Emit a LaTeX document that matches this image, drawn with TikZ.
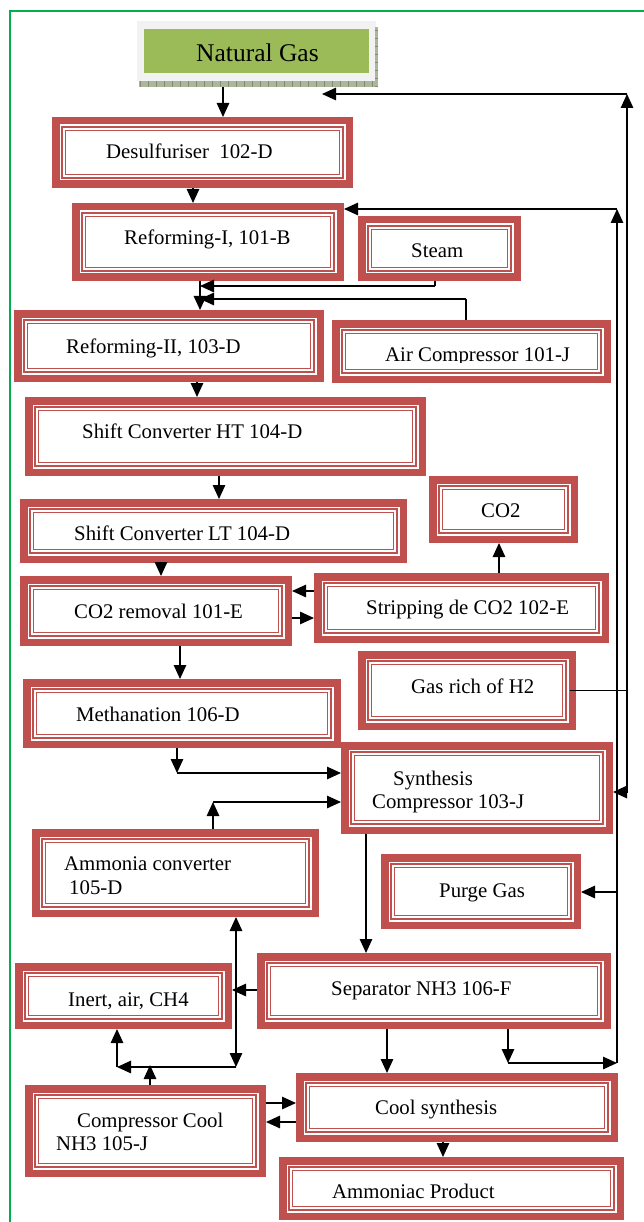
\documentclass[tikz,border=0pt]{standalone}
\usepackage{fontspec}
\setmainfont{Liberation Serif}
\usetikzlibrary{arrows.meta}
\definecolor{boxred}{RGB}{192,80,77}
\definecolor{ngreen}{RGB}{155,187,89}
\definecolor{framegreen}{RGB}{0,176,80}
\definecolor{shadegray}{RGB}{242,242,242}
\definecolor{hatchc}{RGB}{172,182,156}
\definecolor{hatchd}{RGB}{130,140,115}
\pgfdeclarelayer{bg}
\pgfsetlayers{bg,main}
\newcommand\mkbox[5]{\node[boxnode, minimum width={#4-#2}, minimum height={#5-#3}] (#1) at ({(#2+#4)/2},{(#3+#5)/2}) {};}
\newcommand\drawbox[1]{%
  \fill[boxred] (#1.north west) rectangle (#1.south east);
  \fill[white] ([shift={(7.5pt,-7.5pt)}]#1.north west) rectangle ([shift={(-7.5pt,7.5pt)}]#1.south east);
  \draw[boxred,line width=1.8pt] ([shift={(10.1pt,-10.1pt)}]#1.north west) rectangle ([shift={(-10.1pt,10.1pt)}]#1.south east);
  \draw[boxred,line width=1pt] ([shift={(13.5pt,-13.5pt)}]#1.north west) rectangle ([shift={(-13.5pt,13.5pt)}]#1.south east);}
\begin{document}
\begin{tikzpicture}[x=1pt,y=-1pt,
  boxnode/.style={rectangle, inner sep=0, outer sep=0, draw=none},
  txt/.style={font=\fontsize{20.8pt}{24.5pt}\selectfont, inner sep=0, anchor=base west},
  arr/.style={-{Triangle[length=14pt,width=12.5pt]}, line width=1.3pt},
  dbl/.style={{Triangle[length=14pt,width=12.5pt]}-{Triangle[length=14pt,width=12.5pt]}, line width=1.3pt},
  ln/.style={line width=1.3pt}]
\useasboundingbox (0,0) rectangle (643,1222);
% frame
\draw[framegreen, line width=1.6pt] (10,1230) -- (10,11) -- (650,11);

% natural gas
\node[boxnode, minimum width=241, minimum height=66] (ng) at (257.5,54) {};
\fill[shadegray] (137,21) rectangle (376,81);
\fill[hatchc] (139,81) rectangle (378,87);
\fill[hatchc] (375,27) rectangle (378,87);
\foreach \i in {0,...,29} \draw[hatchd, line width=0.5pt] ({140+\i*8},81) -- ({140+\i*8},87);
\foreach \i in {0,...,7} \draw[hatchd, line width=0.5pt] (375,{30+\i*8}) -- (378,{30+\i*8});
\fill[ngreen] (144,29) rectangle (369,73);
\node[txt, font=\fontsize{25.5pt}{30pt}\selectfont] (tng) at (196,62) {Natural Gas};

% boxes
\mkbox{desulf}{52}{117}{353}{188}
\mkbox{refa}{72}{203}{344}{281}
\mkbox{steam}{358}{216}{521}{281}
\mkbox{refb}{14}{310}{324}{382}
\mkbox{aircomp}{332}{320}{611}{383}
\mkbox{sht}{25}{397}{426}{476}
\mkbox{slt}{20}{499}{407}{563}
\mkbox{cotwo}{429}{476}{578}{543}
\mkbox{corem}{20}{576}{292}{646}
\mkbox{strip}{314}{573}{609}{643}
\mkbox{gasrich}{358}{651}{576}{730}
\mkbox{meth}{23}{679}{341}{748}
\mkbox{syncomp}{341}{742}{613}{834}
\mkbox{ammconv}{32}{829}{319}{917}
\mkbox{purge}{381}{854}{581}{929}
\mkbox{inert}{15}{963}{232}{1029}
\mkbox{sep}{257}{953}{611}{1029}
\mkbox{coolsyn}{296}{1073}{618}{1142}
\mkbox{compcool}{25}{1085}{266}{1177}
\mkbox{product}{279}{1157}{624}{1220}

\begin{pgfonlayer}{bg}
\foreach \n in {desulf,refa,steam,refb,aircomp,sht,slt,cotwo,corem,strip,gasrich,meth,syncomp,ammconv,purge,inert,sep,coolsyn,compcool,product}{\drawbox{\n}}
\end{pgfonlayer}

% texts
\node[txt] (tdes) at (106,159) {Desulfuriser~~102-D};
\node[txt] (trefa) at (124,245) {Reforming-I, 101-B};
\node[txt] (tsteam) at (411,258) {Steam};
\node[txt] (trefb) at (66,353) {Reforming-II, 103-D};
\begin{scope}
\clip (332,300) rectangle (611,362.5);
\node[txt] (tair) at (385,361) {Air Compressor 101-J};
\end{scope}
\node[txt] (tsht) at (82,438) {Shift Converter HT 104-D};
\node[txt] (tco) at (481,517) {CO2};
\node[txt] (tslt) at (74,540) {Shift Converter LT 104-D};
\node[txt] (tcorem) at (74,618) {CO2 removal 101-E};
\node[txt] (tstrip) at (366,614) {Stripping de CO2 102-E};
\node[txt] (tgas) at (411,693) {Gas rich of H2};
\node[txt] (tmeth) at (76,721) {Methanation 106-D};
\node[txt] (tsyna) at (393,785) {Synthesis};
\node[txt] (tsynb) at (372,808) {Compressor 103-J};
\node[txt] (tamma) at (64,870) {Ammonia converter};
\node[txt] (tammb) at (69,894) {105-D};
\node[txt] (tpurge) at (439,897) {Purge Gas};
\node[txt] (tinert) at (68,1006) {Inert, air, CH4};
\node[txt] (tsep) at (331,995) {Separator NH3 106-F};
\node[txt] (tcool) at (375,1114) {Cool synthesis};
\node[txt] (tcca) at (77,1127) {Compressor Cool};
\node[txt] (tccb) at (56,1150) {NH3 105-J};
\node[txt] (tprod) at (332,1198) {Ammoniac Product};

% junction coordinates
\coordinate (ra) at (627,94);
\coordinate (rb) at (627,792);
\coordinate (ngin) at (322,94);
\coordinate (qa) at (617,209);
\coordinate (qb) at (617,1063);
\coordinate (sa) at (508,1063);
\coordinate (stj) at (435,286);
\coordinate (stm) at (200,286);
\coordinate (aca) at (466,299);
\coordinate (acm) at (200,299);
\coordinate (ma) at (177,773);
\coordinate (aa) at (213,802);
\coordinate (ja) at (236,1067);
\coordinate (jb) at (117,1067);

% connectors
\draw[arr] (ng.south -| 223,0) -- (desulf.north -| 223,0);
\draw[arr] (desulf.south -| 193,0) -- (refa.north -| 193,0);
\draw[arr] (refa.south -| 200,0) -- (refb.north -| 200,0);
\draw[ln] (steam.south -| stj) -- (stj);
\draw[arr] (stj) -- (stm);
\draw[ln] (aircomp.north -| aca) -- (aca);
\draw[arr] (aca) -- (acm);
\draw[arr] (refb.south -| 197,0) -- (sht.north -| 197,0);
\draw[arr] (sht.south -| 219,0) -- (slt.north -| 219,0);
\draw[arr] (slt.south -| 161,0) -- (corem.north -| 161,0);
\draw[arr] (strip.north -| 499,0) -- (cotwo.south -| 499,0);
\draw[arr] (strip.west |- 0,591) -- (corem.east |- 0,591);
\draw[arr] (corem.east |- 0,618) -- (strip.west |- 0,618);
\draw[arr] (corem.south -| 180,0) -- (meth.north -| 180,0);
\draw[arr] (meth.south -| ma) -- (ma);
\draw[arr] (ma) -- (syncomp.west |- ma);
\draw[arr] (ammconv.north -| aa) -- (aa);
\draw[arr] (aa) -- (syncomp.west |- aa);
% outer return line
\draw[ln] ([xshift=-6pt]gasrich.east) -- (gasrich.east -| ra);
\draw[arr] (rb) -- (ra);
\draw[arr] (ra) -- (ngin);
\draw[arr] (rb) -- (syncomp.east |- rb);
% synthesis to separator
\draw[arr] (syncomp.south -| 366,0) -- (sep.north -| 366,0);
\draw[arr] (sep.west |- 0,990) -- (inert.east |- 0,990);
% ammonia converter loop
\draw[dbl] (ammconv.south -| ja) -- (ja);
\draw[arr] (ja) -- (jb);
\draw[arr] (jb) -- (inert.south -| jb);
\draw[arr] (compcool.north -| 150,0) -- (150,1065);
% separator outputs
\draw[arr] (sep.south -| 387,0) -- (coolsyn.north -| 387,0);
\draw[arr] (sep.south -| sa) -- (sa);
\draw[arr] (sa) -- (qb);
\draw[arr] (qb) -- (qa);
\draw[arr] (qa) -- (refa.east |- qa);
\draw[arr] (qa |- 0,892) -- (purge.east |- 0,892);
% cool synthesis
\draw[arr] (compcool.east |- 0,1103) -- (coolsyn.west |- 0,1103);
\draw[arr] (coolsyn.west |- 0,1122) -- (compcool.east |- 0,1122);
\draw[arr] (coolsyn.south -| 443,0) -- (product.north -| 443,0);
\end{tikzpicture}
\end{document}
